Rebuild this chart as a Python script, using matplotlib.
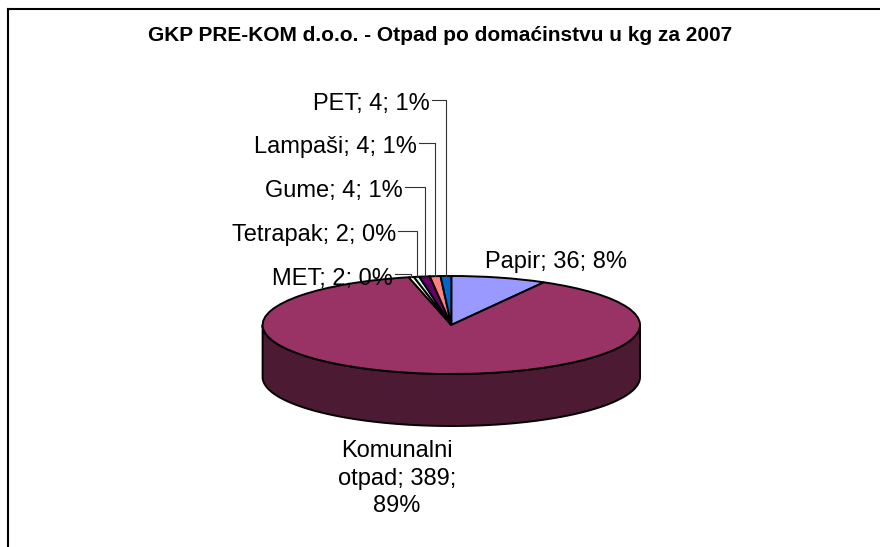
import textwrap
import numpy as np
import matplotlib
matplotlib.use('Agg')
import matplotlib.pyplot as plt
from matplotlib.lines import Line2D
from matplotlib.patches import Polygon
from matplotlib.colors import to_rgb

# ---- data ----
categories = ['Papir', 'Komunalni otpad', 'MET', 'Tetrapak', 'Gume', 'Lampaši', 'PET']
values = [36, 389, 2, 2, 4, 4, 4]
percent_labels = ['8%', '89%', '0%', '0%', '1%', '1%', '1%']
colors = ['#9999FF', '#993366', '#FFFFCC', '#CCFFFF', '#660066', '#FF8080', '#0066CC']
title = 'GKP PRE-KOM d.o.o. - Otpad po domaćinstvu u kg za 2007'

# ---- layout (pixels) ----
W, H = 880, 547
CX, CY, RX, RY, DEPTH = 451.3, 325.0, 188.7, 49.0, 52.0
FONT = 'Liberation Sans'

plt.rcParams['font.family'] = [FONT, 'DejaVu Sans']

fig = plt.figure(figsize=(W / 100, H / 100), dpi=100)
fig.patch.set_facecolor('white')
ax = fig.add_axes([0, 0, 1, 1])


def P(x, y):
    """pixel (from top-left) -> data coordinates"""
    return (x - CX) / RX, (CY - y) / RY


def darken(c, f=0.5):
    r, g, b = to_rgb(c)
    return (r * f, g * f, b * f)


wedges, _ = ax.pie(values, colors=colors, startangle=90, counterclock=False,
                   radius=1, center=(0, 0),
                   wedgeprops=dict(edgecolor='black', linewidth=1.4, zorder=3))
ax.set_aspect('auto')
ax.set_xlim(-CX / RX, (W - CX) / RX)
ax.set_ylim((CY - H) / RY, CY / RY)
ax.axis('off')

# ---- 3D side of the pie ----
D = DEPTH / RY
for w, c in zip(wedges, colors):
    a, b = w.theta1, w.theta2
    for k in range(-2, 3):
        lo, hi = max(a, -180 + 360 * k), min(b, 360 * k)
        if hi <= lo:
            continue
        t = np.radians(np.linspace(lo, hi, 300))
        x, y = np.cos(t), np.sin(t)
        poly = np.column_stack([np.r_[x, x[::-1]], np.r_[y, y[::-1] - D]])
        ax.add_patch(Polygon(poly, closed=True, facecolor=darken(c),
                             edgecolor='black', linewidth=1.4, zorder=2))

# ---- labels ----
FS = 17
labels = [f'{n}; {v}; {p}' for n, v, p in zip(categories, values, percent_labels)]

# Papir
ax.text(*P(485, 268), labels[0], ha='left', va='baseline', fontsize=FS, zorder=5)

# Komunalni (wrapped)
for i, line in enumerate(textwrap.wrap(labels[1], 11)):
    ax.text(*P(397, 457 + 27.5 * i), line, ha='center', va='baseline',
            fontsize=FS, zorder=5)

# small slices with leader lines: right end x, baseline y, leader y
small_pos = {2: (393, 285, 274), 3: (396, 241, 231), 4: (403, 197, 187),
             5: (417, 153, 143), 6: (430, 110, 100)}
for i, (xr, yb, yl) in small_pos.items():
    ax.text(*P(xr, yb), labels[i], ha='right', va='baseline', fontsize=FS, zorder=5)
    w = wedges[i]
    m = np.radians((w.theta1 + w.theta2) / 2)
    axx, ayy = np.cos(m), np.sin(m)
    x0, y0 = P(xr + 2, yl)
    ax.plot([x0, axx, axx], [y0, y0, ayy], color='#333333', lw=0.8, zorder=4)

# ---- title ----
fig.text(440 / W, 1 - 41 / H, title, ha='center', va='baseline',
         fontsize=15, fontweight='bold')

# ---- chart border ----
fig.add_artist(Line2D([8 / W, 1], [1 - 9 / H, 1 - 9 / H], transform=fig.transFigure,
                      color='black', lw=1.5))
fig.add_artist(Line2D([8 / W, 8 / W], [0, 1 - 9 / H], transform=fig.transFigure,
                      color='black', lw=1.5))

fig.savefig('out.png', dpi=100, facecolor='white')
